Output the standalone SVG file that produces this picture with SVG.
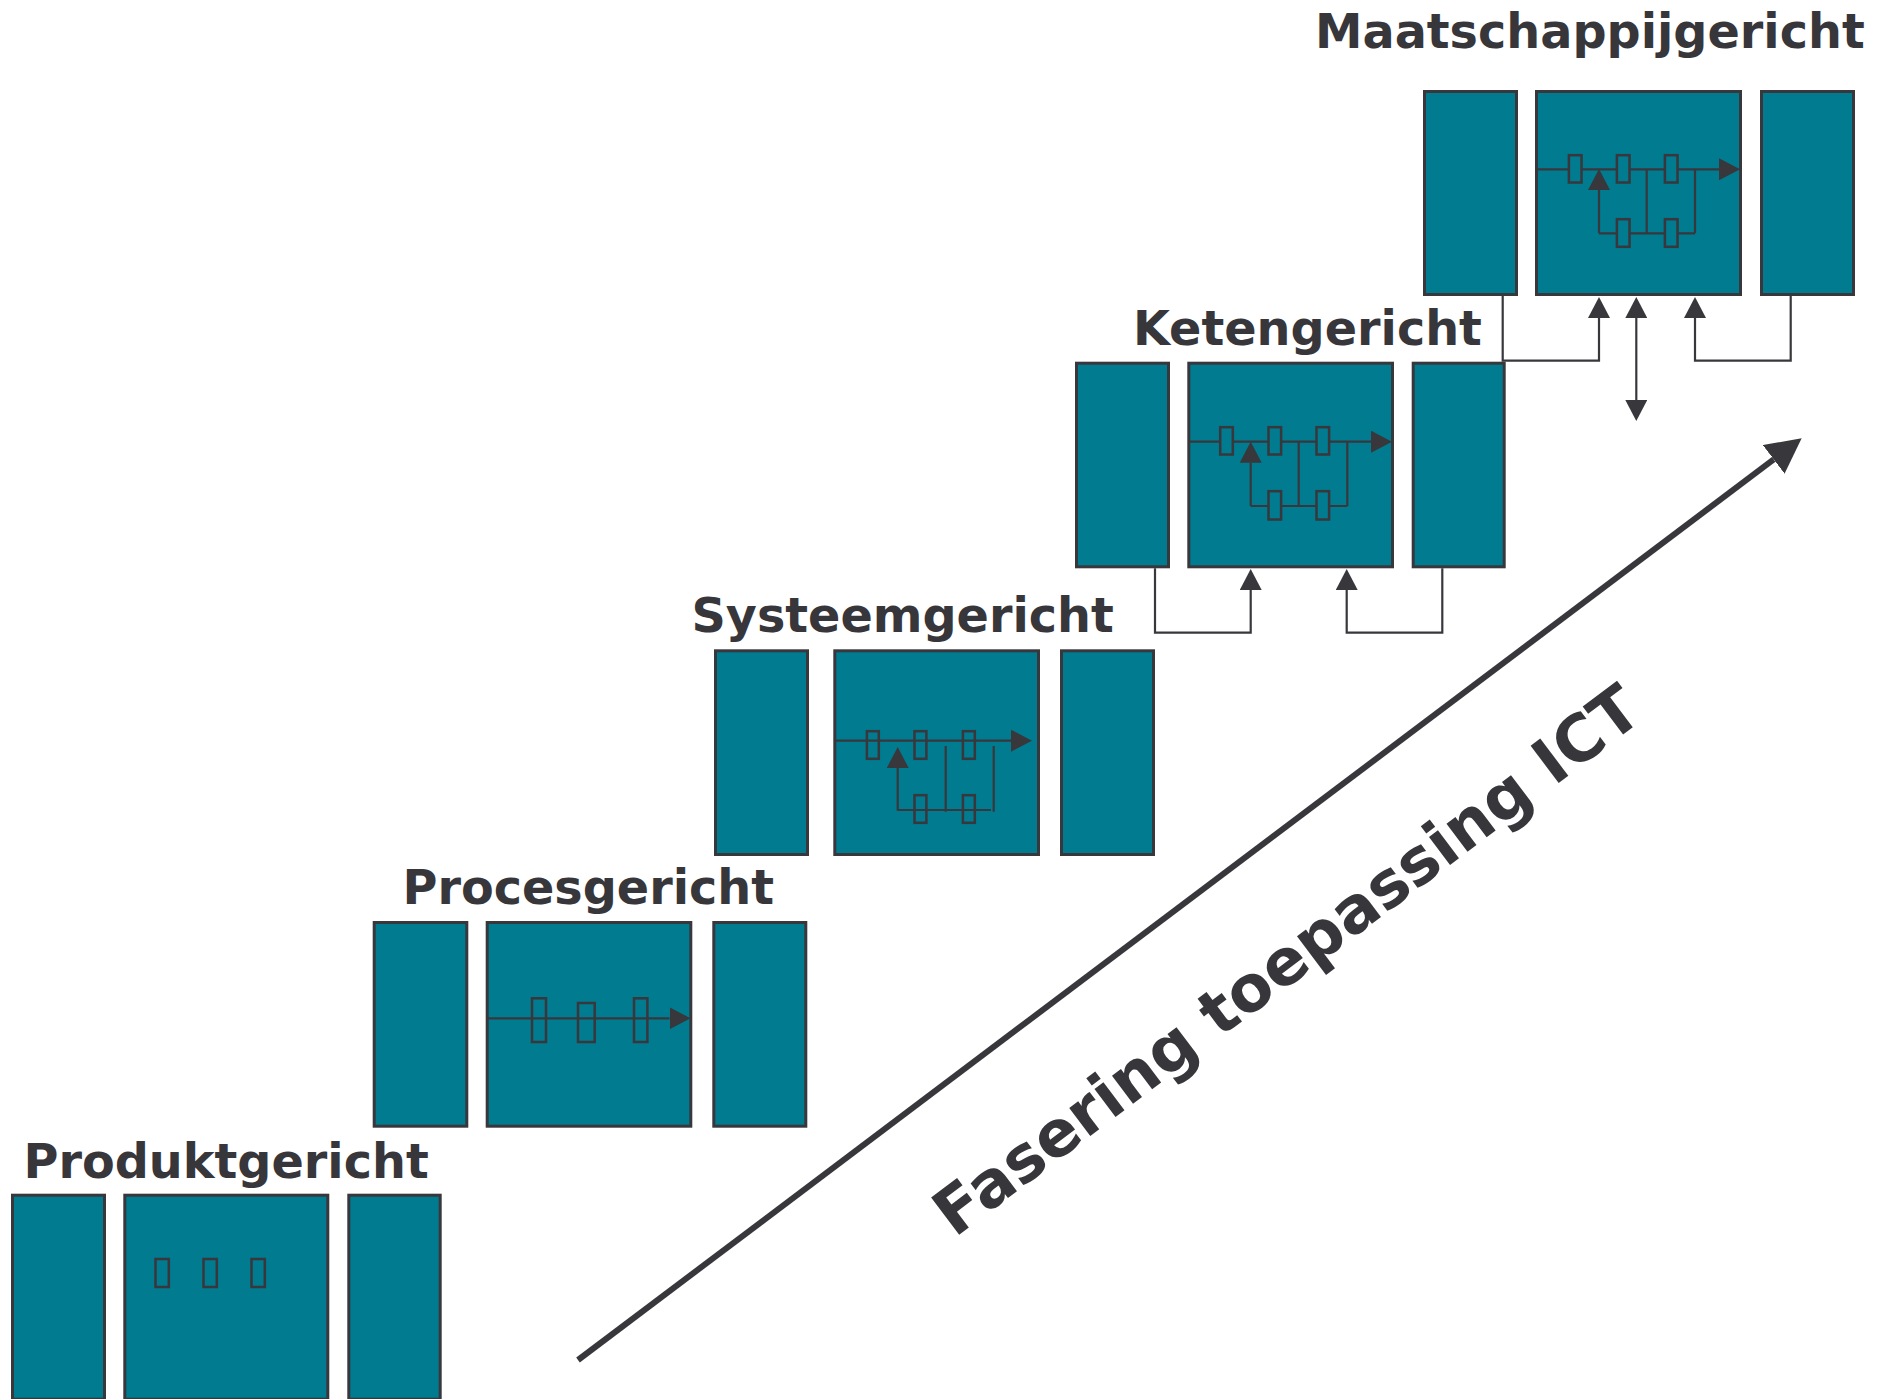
<svg xmlns="http://www.w3.org/2000/svg" width="1890" height="1399" viewBox="0 0 1890 1399">
<defs>
<style>
.bg{fill:#ffffff}
.box{fill:#007b8f;stroke:#38373c;stroke-width:3}
.el{fill:#007b8f;stroke:#38373c;stroke-width:2.5}
.eln{fill:none;stroke:#38373c;stroke-width:2.5}
.ln{fill:none;stroke:#38373c;stroke-width:2.2}
.ar{fill:none;stroke:#38373c;stroke-width:2.2;marker-end:url(#ah)}
.big{fill:none;stroke:#38373c;stroke-width:6;marker-end:url(#bah)}
.title{font-family:"DejaVu Sans",Verdana,sans-serif;font-weight:bold;font-size:47.7px;fill:#37363b}
.diag{font-family:"DejaVu Sans",Verdana,sans-serif;font-weight:bold;font-size:64px;fill:#37363b}
</style>
<marker id="ah" markerUnits="userSpaceOnUse" markerWidth="21" markerHeight="22" viewBox="0 0 21 22" refX="0" refY="11" orient="auto">
<path d="M0,0 L21,11 L0,22 z" fill="#38373c"/>
</marker>
<marker id="bah" markerUnits="userSpaceOnUse" markerWidth="35" markerHeight="36" viewBox="0 0 35 36" refX="0" refY="18" orient="auto">
<path d="M0,0 L35,18 L0,36 z" fill="#38373c"/>
</marker>
</defs>
<rect class="bg" x="0" y="0" width="1890" height="1399"/>

<!-- Produktgericht -->
<g id="produktgericht">
<text class="title" x="23.5" y="1178">Produktgericht</text>
<g id="produkt-left"><rect class="box" x="12.5" y="1195.2" width="92" height="204"/></g>
<g id="produkt-mid">
<rect class="box" x="124.8" y="1195.2" width="203" height="204"/>
<rect class="eln" x="155.5" y="1259" width="13.3" height="28"/>
<rect class="eln" x="203.5" y="1259" width="13.3" height="28"/>
<rect class="eln" x="251.5" y="1259" width="13.3" height="28"/>
</g>
<g id="produkt-right"><rect class="box" x="348.8" y="1195.2" width="91.4" height="204"/></g>
</g>

<!-- Procesgericht -->
<g id="procesgericht">
<text class="title" x="402.5" y="904">Procesgericht</text>
<g id="proces-left"><rect class="box" x="374.2" y="922.5" width="92.6" height="203.7"/></g>
<g id="proces-mid">
<rect class="box" x="487.2" y="922.5" width="203.6" height="203.7"/>
<rect class="eln" x="532" y="998.3" width="14" height="43.7"/>
<rect class="eln" x="578" y="1003" width="16.7" height="39"/>
<rect class="eln" x="634" y="998.3" width="13.4" height="43.7"/>
<path class="ar" d="M487,1018.3 H669.5"/>
</g>
<g id="proces-right"><rect class="box" x="713.8" y="922.5" width="92" height="203.7"/></g>
</g>

<!-- Systeemgericht -->
<g id="systeemgericht">
<text class="title" x="691.5" y="632">Systeemgericht</text>
<g id="systeem-left"><rect class="box" x="715.5" y="650.8" width="92" height="203.7"/></g>
<g id="systeem-mid">
<rect class="box" x="834.8" y="650.8" width="203.7" height="203.7"/>
<path class="ar" d="M835,740.7 H1011"/>
<rect class="eln" x="866.9" y="731.2" width="11.9" height="27.6"/>
<rect class="eln" x="914.5" y="731.2" width="11.9" height="27.6"/>
<rect class="eln" x="962.9" y="731.2" width="11.9" height="27.6"/>
<path class="ar" d="M897.7,810.7 V768"/>
<path class="ln" d="M897.7,810 H991"/>
<rect class="eln" x="914.5" y="795.2" width="11.9" height="27.6"/>
<rect class="eln" x="962.9" y="795.2" width="11.9" height="27.6"/>
<path class="ln" d="M945.7,746 V811.7 M993.7,746 V811.7"/>
</g>
<g id="systeem-right"><rect class="box" x="1061.5" y="650.8" width="92" height="203.7"/></g>
</g>

<!-- Ketengericht -->
<g id="ketengericht">
<text class="title" x="1133" y="345">Ketengericht</text>
<g id="keten-left"><rect class="box" x="1076.5" y="363.2" width="92" height="203.6"/></g>
<g id="keten-mid">
<rect class="box" x="1188.8" y="363.2" width="203.7" height="203.6"/>
<path class="ar" d="M1189,441.7 H1371"/>
<path class="ln" d="M1250.7,506 H1347.3 M1298.7,441.7 V506 M1347.3,441.7 V506"/>
<path class="ar" d="M1250.7,506 V462.7"/>
<rect class="el" x="1220.2" y="427.2" width="12.6" height="27.3"/>
<rect class="el" x="1268.5" y="427.2" width="12.6" height="27.3"/>
<rect class="el" x="1316.5" y="427.2" width="12.6" height="27.3"/>
<rect class="el" x="1268.5" y="491.2" width="12.6" height="28.3"/>
<rect class="el" x="1316.5" y="491.2" width="12.6" height="28.3"/>
</g>
<g id="keten-right"><rect class="box" x="1413.2" y="363.2" width="91" height="203.6"/></g>
</g>

<!-- Maatschappijgericht -->
<g id="maatschappijgericht">
<text class="title" x="1315" y="48">Maatschappijgericht</text>
<g id="maatschappij-left"><rect class="box" x="1424.5" y="91.5" width="92" height="203"/></g>
<g id="maatschappij-mid">
<rect class="box" x="1536.5" y="91.5" width="204" height="203"/>
<path class="ar" d="M1537,169.3 H1719"/>
<path class="ln" d="M1599,233.3 H1695 M1646.7,169.3 V233.3 M1695,169.3 V233.3"/>
<path class="ar" d="M1599,233.3 V190"/>
<rect class="el" x="1568.9" y="155.2" width="12.6" height="27.3"/>
<rect class="el" x="1616.9" y="155.2" width="12.6" height="27.3"/>
<rect class="el" x="1664.9" y="155.2" width="12.6" height="27.3"/>
<rect class="el" x="1616.9" y="219.2" width="12.6" height="27.6"/>
<rect class="el" x="1664.9" y="219.2" width="12.6" height="27.6"/>
</g>
<g id="maatschappij-right"><rect class="box" x="1761.5" y="91.5" width="92" height="203"/></g>
</g>

<!-- Connectors -->
<g id="connectors">
<path class="ar" d="M1155,568.3 V632.7 H1250.7 V590"/>
<path class="ar" d="M1442.3,568.3 V632.7 H1346.7 V590"/>
<path class="ar" d="M1502.7,296 V360.7 H1599 V318"/>
<path class="ar" d="M1790.7,296 V360.7 H1695 V318"/>
<path class="ar" d="M1636.3,359 V318"/>
<path class="ar" d="M1636.3,359 V400"/>
<path class="big" d="M578,1360 L1773.7,459.4"/>
</g>

<text class="diag" x="1300" y="978" text-anchor="middle" transform="rotate(-37 1300 978)">Fasering toepassing ICT</text>
</svg>
